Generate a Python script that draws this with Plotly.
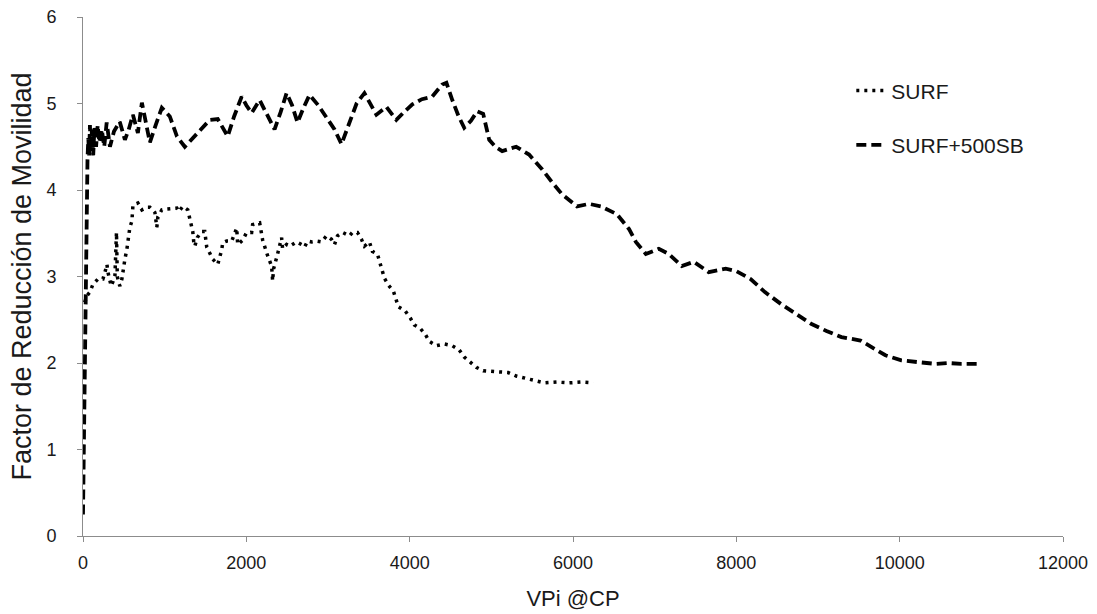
import plotly.graph_objects as go

# SURF (dotted)
surf_x = [20, 50, 85, 122, 183, 244, 269, 293, 305, 330, 345, 367, 391, 410, 420, 440, 452, 476, 489,
          513, 538, 550, 574, 599, 611, 672, 721, 782, 819, 880, 904, 917, 965, 1027, 1088, 1149, 1173,
          1222, 1283, 1308, 1344, 1356, 1369, 1400, 1454, 1491, 1515, 1589, 1650, 1699, 1711, 1760, 1821,
          1882, 1894, 1955, 2004, 2065, 2077, 2163, 2200, 2261, 2310, 2322, 2334, 2383, 2432, 2444, 2493,
          2530, 2615, 2676, 2713, 2750, 2798, 2860, 2921, 2982, 3043, 3080, 3116, 3177, 3263, 3299, 3361,
          3410, 3446, 3507, 3544, 3605, 3654, 3691, 3740, 3801, 3862, 3947, 4008, 4057, 4130, 4192, 4240,
          4326, 4424, 4522, 4607, 4668, 4729, 4815, 4900, 5010, 5108, 5206, 5304, 5401, 5500, 5650, 5800,
          5950, 6100, 6250]
surf_y = [2.70, 2.78, 2.82, 2.91, 2.97, 2.97, 3.05, 3.14, 3.05, 2.95, 2.89, 2.94, 3.01, 3.51, 3.00, 2.92,
          2.89, 2.97, 3.06, 3.20, 3.32, 3.43, 3.57, 3.64, 3.82, 3.85, 3.77, 3.80, 3.80, 3.74, 3.57, 3.69,
          3.77, 3.78, 3.78, 3.79, 3.75, 3.81, 3.77, 3.68, 3.52, 3.40, 3.35, 3.45, 3.52, 3.52, 3.34, 3.20,
          3.14, 3.31, 3.39, 3.41, 3.41, 3.56, 3.37, 3.42, 3.51, 3.51, 3.60, 3.62, 3.42, 3.24, 3.12, 2.95,
          3.09, 3.26, 3.45, 3.32, 3.37, 3.35, 3.40, 3.37, 3.34, 3.41, 3.40, 3.41, 3.40, 3.47, 3.43, 3.37,
          3.47, 3.51, 3.47, 3.51, 3.51, 3.43, 3.35, 3.40, 3.29, 3.26, 3.08, 2.98, 2.90, 2.83, 2.65, 2.60,
          2.52, 2.44, 2.40, 2.33, 2.25, 2.20, 2.22, 2.20, 2.15, 2.07, 2.02, 1.95, 1.91, 1.90, 1.90, 1.89,
          1.85, 1.83, 1.80, 1.77, 1.78, 1.77, 1.78, 1.77]

# SURF+500SB (dashed)
sb_x = [0, 15, 30, 45, 55, 65, 75, 85, 95, 110, 125, 140, 160, 180, 200, 230, 260, 290, 330, 380, 450,
        513, 560, 611, 672, 721, 780, 819, 890, 965, 1063, 1150, 1246, 1400, 1552, 1650, 1772, 1850, 1943,
        2000, 2065, 2163, 2285, 2346, 2420, 2493, 2560, 2627, 2700, 2774, 2880, 2982, 3080, 3165, 3263,
        3350, 3446, 3520, 3593, 3715, 3837, 3930, 4033, 4150, 4277, 4399, 4450, 4522, 4600, 4668, 4750,
        4827, 4900, 4974, 5050, 5133, 5304, 5462, 5621, 5744, 5866, 6049, 6196, 6342, 6538, 6685, 6770,
        6892, 7051, 7173, 7332, 7479, 7662, 7870, 8004, 8175, 8350, 8550, 8762, 8921, 9104, 9287, 9520,
        9642, 9825, 10021, 10228, 10436, 10595, 10754, 10960]
sb_y = [0.25, 1.50, 3.00, 4.00, 4.35, 4.60, 4.40, 4.75, 4.45, 4.70, 4.40, 4.72, 4.50, 4.75, 4.55, 4.70,
        4.50, 4.78, 4.50, 4.68, 4.79, 4.58, 4.70, 4.87, 4.66, 5.01, 4.70, 4.55, 4.75, 4.95, 4.85, 4.62,
        4.50, 4.65, 4.81, 4.82, 4.62, 4.85, 5.08, 4.98, 4.89, 5.04, 4.81, 4.70, 4.90, 5.12, 4.98, 4.78,
        4.95, 5.10, 4.98, 4.84, 4.70, 4.53, 4.78, 5.00, 5.12, 5.00, 4.87, 4.96, 4.81, 4.90, 4.99, 5.05,
        5.08, 5.22, 5.24, 5.04, 4.85, 4.72, 4.80, 4.91, 4.88, 4.58, 4.50, 4.45, 4.50, 4.41, 4.24, 4.09,
        3.95, 3.81, 3.84, 3.81, 3.72, 3.55, 3.40, 3.26, 3.32, 3.26, 3.12, 3.17, 3.05, 3.09, 3.06, 2.97,
        2.82, 2.68, 2.55, 2.45, 2.37, 2.30, 2.26, 2.19, 2.09, 2.03, 2.01, 1.99, 2.00, 1.99, 1.99]

x_ticks = [0, 2000, 4000, 6000, 8000, 10000, 12000]
y_ticks = [0, 1, 2, 3, 4, 5, 6]

FONT = "Liberation Sans, Arial, sans-serif"
AXIS_COL = "#8c8c8c"
TXT = "#1a1a1a"

fig = go.Figure()
fig.add_trace(go.Scatter(x=surf_x, y=surf_y, mode="lines", name="SURF", legendgroup="a",
                         line=dict(color="black", width=3.5, dash="3px,5px")))
fig.add_trace(go.Scatter(x=sb_x, y=sb_y, mode="lines", name="SURF+500SB", legendgroup="b",
                         line=dict(color="black", width=3.8, dash="10px,5px")))

fig.update_layout(
    width=1097, height=614,
    margin=dict(l=83, r=34, t=17, b=78),
    paper_bgcolor="white", plot_bgcolor="white",
    font=dict(family=FONT, color=TXT, size=18),
    showlegend=True,
    legend=dict(x=0.784, y=0.897, xanchor="left", yanchor="top",
                font=dict(size=21, family=FONT, color=TXT),
                tracegroupgap=24, bgcolor="rgba(0,0,0,0)"),
    xaxis=dict(range=[0, 12000], tickvals=x_ticks, ticktext=[str(v) for v in x_ticks],
               showgrid=False, zeroline=False, showline=True, linecolor=AXIS_COL, linewidth=1,
               ticks="outside", ticklen=5, tickcolor=AXIS_COL, tickfont=dict(size=18),
               ticklabelstandoff=5, automargin=False,
               title=dict(text="VPi @CP", font=dict(size=22), standoff=19)),
    yaxis=dict(range=[0, 6], tickvals=y_ticks, ticktext=[str(v) for v in y_ticks],
               showgrid=False, zeroline=False, showline=True, linecolor=AXIS_COL, linewidth=1,
               ticks="outside", ticklen=5, tickcolor=AXIS_COL, tickfont=dict(size=18),
               ticklabelstandoff=17, automargin=False,
               title=dict(text="Factor de Reducción de Movilidad", font=dict(size=27), standoff=6)),
)

fig.write_html("out.html")
